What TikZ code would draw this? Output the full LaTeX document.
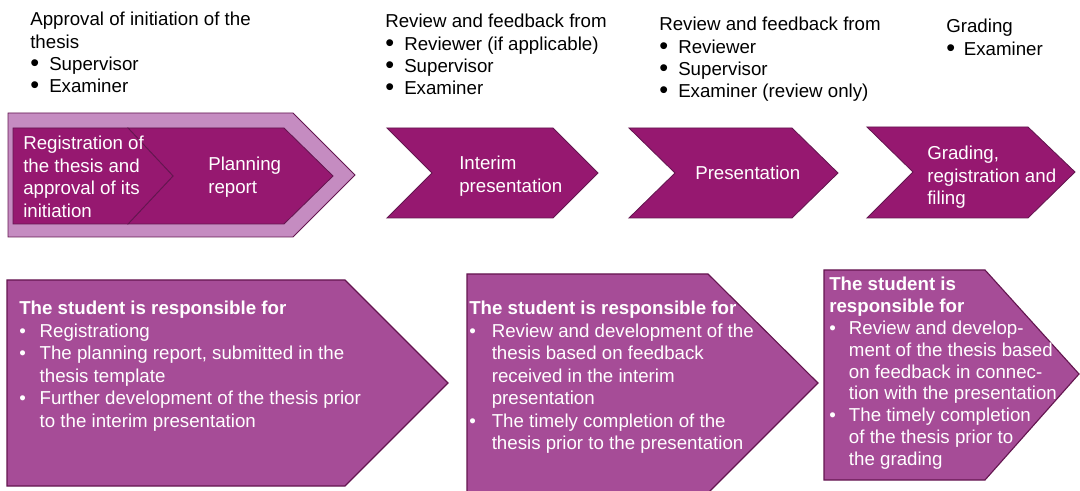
\documentclass[tikz,border=0pt]{standalone}
\usepackage{fontspec}
\setmainfont{Liberation Sans}
\usepackage{graphicx}
\usepackage{tikz}

\definecolor{phasepurple}{RGB}{150,24,112}
\definecolor{phaselight}{RGB}{197,140,193}
\definecolor{dutypurple}{RGB}{166,76,151}
\definecolor{edgepurple}{RGB}{100,22,80}

\newcommand{\bigdot}{\raisebox{-0.07em}{\scalebox{1.35}{\textbullet}}}

\begin{document}
\begin{tikzpicture}[x=0.025cm, y=-0.025cm,
  phase/.style={fill=phasepurple, draw=edgepurple, line width=0.6pt},
  frame/.style={fill=phaselight, draw=edgepurple, line width=0.6pt},
  duty/.style={fill=dutypurple, draw=edgepurple, line width=0.8pt},
  phasetext/.style={anchor=base west, inner sep=0pt, text=white,
    font=\fontsize{13.3}{16}\selectfont},
  whotext/.style={anchor=base west, inner sep=0pt,
    font=\fontsize{13.3}{15.7}\selectfont},
  dutytext/.style={anchor=base west, inner sep=0pt, text=white,
    font=\fontsize{13.3}{16}\selectfont}]
\useasboundingbox (0,0) rectangle (1080,491);

% Phases along the top
\draw[frame] (8,113) -- (293,113) -- (355,175) -- (293,237) -- (8,237) -- cycle;
\draw[phase] (128,128) -- (284,128) -- (333,176) -- (284,224) -- (128,224) -- (173,176) -- cycle;
\draw[phase] (13,128) -- (128,128) -- (173,176) -- (128,224) -- (13,224) -- cycle;
\draw[phase] (387,128) -- (553,128) -- (598,173) -- (553,218) -- (387,218) -- (432,173) -- cycle;
\draw[phase] (629,128) -- (792,128) -- (838,173) -- (792,218) -- (629,218) -- (675,173) -- cycle;
\draw[phase] (867,127) -- (1028,127) -- (1075,172) -- (1028,218) -- (867,218) -- (913,172) -- cycle;

\node[phasetext] (registration) at (23,150) {\begin{tabular}[t]{@{}l@{}}Registration of\\the thesis and\\approval of its\\initiation\end{tabular}};
\node[phasetext] (planning) at (208,171) {\begin{tabular}[t]{@{}l@{}}Planning\\report\end{tabular}};
\node[phasetext] (interim) at (459,170) {\begin{tabular}[t]{@{}l@{}}Interim\\presentation\end{tabular}};
\node[phasetext] (presentation) at (695,180) {Presentation};
\node[phasetext] (grading) at (927,160) {\begin{tabular}[t]{@{}l@{}}Grading,\\registration and\\filing\end{tabular}};

% Who takes part
\node[whotext] (approval) at (30,26) {\begin{tabular}[t]{@{}p{13.5pt}@{}l@{}}
\multicolumn{2}{@{}l@{}}{Approval of initiation of the}\\
\multicolumn{2}{@{}l@{}}{thesis}\\
\bigdot & Supervisor\\
\bigdot & Examiner
\end{tabular}};
\node[whotext] (feedback1) at (385,28) {\begin{tabular}[t]{@{}p{13.5pt}@{}l@{}}
\multicolumn{2}{@{}l@{}}{Review and feedback from}\\
\bigdot & Reviewer (if applicable)\\
\bigdot & Supervisor\\
\bigdot & Examiner
\end{tabular}};
\node[whotext] (feedback2) at (659,31) {\begin{tabular}[t]{@{}p{13.5pt}@{}l@{}}
\multicolumn{2}{@{}l@{}}{Review and feedback from}\\
\bigdot & Reviewer\\
\bigdot & Supervisor\\
\bigdot & Examiner (review only)
\end{tabular}};
\node[whotext] (grader) at (946,33) {\begin{tabular}[t]{@{}p{12.5pt}@{}l@{}}
\multicolumn{2}{@{}l@{}}{Grading}\\
\bigdot & Examiner
\end{tabular}};

% What the student is responsible for
\draw[duty] (7,280) -- (345,280) -- (448,383) -- (345,486) -- (7,486) -- cycle;
\draw[duty] (467,274) -- (708,274) -- (818,383) -- (708,493) -- (467,493) -- cycle;
\draw[duty] (824,270) -- (985,270) -- (1079,374) -- (985,480) -- (824,480) -- cycle;

\node[dutytext] (duty1) at (19,315) {\begin{tabular}[t]{@{}p{14.5pt}@{}l@{}}
\multicolumn{2}{@{}l@{}}{\bfseries The student is responsible for}\\
\textbullet & Registrationg\\
\textbullet & The planning report, submitted in the\\
 & thesis template\\
\textbullet & Further development of the thesis prior\\
 & to the interim presentation
\end{tabular}};
\node[dutytext] (duty2) at (469,315) {\begin{tabular}[t]{@{}p{16pt}@{}l@{}}
\multicolumn{2}{@{}l@{}}{\bfseries The student is responsible for}\\
\textbullet & Review and development of the\\
 & thesis based on feedback\\
 & received in the interim\\
 & presentation\\
\textbullet & The timely completion of the\\
 & thesis prior to the presentation
\end{tabular}};
\node[dutytext, font=\fontsize{13.3}{15.5}\selectfont] (duty3) at (829,291) {\begin{tabular}[t]{@{}p{14pt}@{}l@{}}
\multicolumn{2}{@{}l@{}}{\bfseries The student is}\\
\multicolumn{2}{@{}l@{}}{\bfseries responsible for}\\
\textbullet & Review and develop-\\
 & ment of the thesis based\\
 & on feedback in connec-\\
 & tion with the presentation\\
\textbullet & The timely completion\\
 & of the thesis prior to\\
 & the grading
\end{tabular}};
\end{tikzpicture}
\end{document}
